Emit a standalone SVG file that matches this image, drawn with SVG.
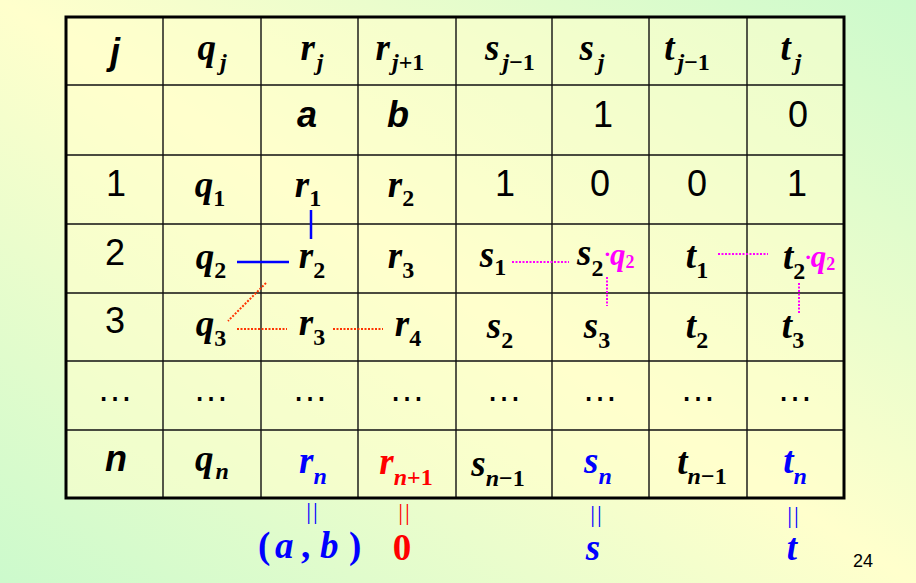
<svg xmlns="http://www.w3.org/2000/svg" width="916" height="583" viewBox="0 0 916 583">
<defs>
<linearGradient id="bg" x1="0" y1="1" x2="1" y2="0">
<stop offset="0" stop-color="#CCFACC"/>
<stop offset="0.5" stop-color="#FFFFCC"/>
<stop offset="1" stop-color="#CCFACC"/>
</linearGradient>
<style>
.m{font-family:"Liberation Serif","Times New Roman",serif;font-weight:bold;font-style:italic;font-size:37px;fill:#000}
.sub{font-size:24px}
.up{font-style:normal}
.a{font-family:"Liberation Sans",Arial,sans-serif;font-size:36px;fill:#000}
.ab{font-weight:bold;font-style:italic}
.blue{fill:#0000FF}
.red{fill:#FF0000}
.mag{fill:#FF00FF}
.mq{font-size:31px}
.ms{font-size:18px}
.grid{stroke:#111;stroke-width:1.4;fill:none}
.bl{stroke:#0000FF;stroke-width:2.5;fill:none}
.or{stroke:#FF3300;stroke-width:2;stroke-dasharray:2 1.5;fill:none}
.mg{stroke:#FF00FF;stroke-width:2;stroke-dasharray:2 1.5;fill:none}
.eq{font-family:"Liberation Serif",serif;font-size:24px;letter-spacing:2px}
</style>
</defs>
<rect width="916" height="583" fill="url(#bg)"/>
<g id="table">
<rect x="66" y="17" width="778" height="481" fill="#FFFFCC" fill-opacity="0.55"/>
<path class="grid" d="M163 17V498M261 17V498M358 17V498M456 17V498M552 17V498M649 17V498M747 17V498M66 85H844M66 155H844M66 224H844M66 293H844M66 361H844M66 430H844"/>
<rect x="66" y="17" width="778" height="481" fill="none" stroke="#000" stroke-width="3"/>
</g>
<g id="connectors">
<path class="bl" d="M311 210V239M237 262H289"/>
<path class="or" d="M266 283L228 321M237 329H287M333 329H383"/>
<path class="mg" d="M512 262H569M607 277V306M718 254H768M799 283V314"/>
</g>
<g id="header">
<text class="a ab" x="115" y="64" text-anchor="middle">j</text>
<text class="m" x="212" y="60" text-anchor="middle">q<tspan class="sub" dx="4" dy="10">j</tspan></text>
<text class="m" x="312" y="60" text-anchor="middle">r<tspan class="sub" dx="2" dy="10">j</tspan></text>
<text class="m" x="400" y="60" text-anchor="middle">r<tspan class="sub" dx="2" dy="10">j<tspan class="up">+1</tspan></tspan></text>
<text class="m" x="510" y="60" text-anchor="middle">s<tspan class="sub" dx="3" dy="10">j<tspan class="up">−1</tspan></tspan></text>
<text class="m" x="592" y="60" text-anchor="middle">s<tspan class="sub" dx="4" dy="10">j</tspan></text>
<text class="m" x="687" y="60" text-anchor="middle">t<tspan class="sub" dx="3" dy="10">j<tspan class="up">−1</tspan></tspan></text>
<text class="m" x="791" y="60" text-anchor="middle">t<tspan class="sub" dx="4" dy="10">j</tspan></text>
</g>
<g id="row-init">
<text class="a ab" x="307" y="127" text-anchor="middle">a</text>
<text class="a ab" x="398" y="127" text-anchor="middle">b</text>
<text class="a" x="603" y="127" text-anchor="middle">1</text>
<text class="a" x="798" y="127" text-anchor="middle">0</text>
</g>
<g id="row-1">
<text class="a" x="116" y="196" text-anchor="middle">1</text>
<text class="m" x="210" y="197" text-anchor="middle">q<tspan class="sub up" dy="9">1</tspan></text>
<text class="m" x="308" y="197" text-anchor="middle">r<tspan class="sub up" dy="9">1</tspan></text>
<text class="m" x="401" y="197" text-anchor="middle">r<tspan class="sub up" dy="9">2</tspan></text>
<text class="a" x="505" y="196" text-anchor="middle">1</text>
<text class="a" x="600" y="196" text-anchor="middle">0</text>
<text class="a" x="697" y="196" text-anchor="middle">0</text>
<text class="a" x="797" y="196" text-anchor="middle">1</text>
</g>
<g id="row-2">
<text class="a" x="115" y="265" text-anchor="middle">2</text>
<text class="m" x="211" y="269" text-anchor="middle">q<tspan class="sub up" dy="9">2</tspan></text>
<text class="m" x="312" y="268" text-anchor="middle">r<tspan class="sub up" dy="10">2</tspan></text>
<text class="m" x="401" y="268" text-anchor="middle">r<tspan class="sub up" dy="10">3</tspan></text>
<text class="m" x="493" y="267" text-anchor="middle">s<tspan class="sub up" dy="8">1</tspan></text>
<text class="m" x="577" y="265">s<tspan class="sub up" dy="11">2</tspan><tspan class="mag" dx="1" dy="-15" font-size="22px">·</tspan><tspan class="mag mq" dy="4">q</tspan><tspan class="mag up ms" dy="3">2</tspan></text>
<text class="m" x="697" y="268" text-anchor="middle">t<tspan class="sub up" dy="10">1</tspan></text>
<text class="m" x="783" y="269">t<tspan class="sub up" dy="10">2</tspan><tspan class="mag" dx="0" dy="-15" font-size="22px">·</tspan><tspan class="mag mq" dy="3">q</tspan><tspan class="mag up ms" dy="3">2</tspan></text>
</g>
<g id="row-3">
<text class="a" x="115" y="333" text-anchor="middle">3</text>
<text class="m" x="211" y="336" text-anchor="middle">q<tspan class="sub up" dy="10">3</tspan></text>
<text class="m" x="312" y="335" text-anchor="middle">r<tspan class="sub up" dy="10">3</tspan></text>
<text class="m" x="408" y="336" text-anchor="middle">r<tspan class="sub up" dy="10">4</tspan></text>
<text class="m" x="500" y="338" text-anchor="middle">s<tspan class="sub up" dy="10">2</tspan></text>
<text class="m" x="597" y="338" text-anchor="middle">s<tspan class="sub up" dy="10">3</tspan></text>
<text class="m" x="697" y="338" text-anchor="middle">t<tspan class="sub up" dy="10">2</tspan></text>
<text class="m" x="793" y="338" text-anchor="middle">t<tspan class="sub up" dy="10">3</tspan></text>
</g>
<g id="row-dots">
<text class="a" x="115" y="401" text-anchor="middle">…</text>
<text class="a" x="211" y="401" text-anchor="middle">…</text>
<text class="a" x="310" y="401" text-anchor="middle">…</text>
<text class="a" x="407" y="401" text-anchor="middle">…</text>
<text class="a" x="504" y="401" text-anchor="middle">…</text>
<text class="a" x="600" y="401" text-anchor="middle">…</text>
<text class="a" x="698" y="401" text-anchor="middle">…</text>
<text class="a" x="795" y="401" text-anchor="middle">…</text>
</g>
<g id="row-n">
<text class="a ab" x="116" y="471" text-anchor="middle">n</text>
<text class="m" x="212" y="471" text-anchor="middle">q<tspan class="sub" dx="2" dy="8">n</tspan></text>
<text class="m blue" x="313" y="473" text-anchor="middle">r<tspan class="sub" dy="11">n</tspan></text>
<text class="m red" x="406" y="474" text-anchor="middle">r<tspan class="sub" dy="11">n<tspan class="up">+1</tspan></tspan></text>
<text class="m" x="498" y="476" text-anchor="middle">s<tspan class="sub" dy="10">n<tspan class="up">−1</tspan></tspan></text>
<text class="m blue" x="598" y="473" text-anchor="middle">s<tspan class="sub" dy="11">n</tspan></text>
<text class="m" x="702" y="474" text-anchor="middle">t<tspan class="sub" dy="10">n<tspan class="up">−1</tspan></tspan></text>
<text class="m blue" x="795" y="473" text-anchor="middle">t<tspan class="sub" dy="11">n</tspan></text>
</g>
<g id="results">
<text class="eq blue" x="313" y="519" text-anchor="middle">||</text>
<text class="eq red" x="405" y="520" text-anchor="middle">||</text>
<text class="eq blue" x="597" y="522" text-anchor="middle">||</text>
<text class="eq blue" x="794" y="523" text-anchor="middle">||</text>
<text class="m blue" font-size="38px" y="558"><tspan class="up" x="258">(</tspan><tspan x="275">a</tspan><tspan class="up" x="301">,</tspan><tspan x="320">b</tspan><tspan class="up" x="349">)</tspan></text>
<text class="m red up" font-size="40px" x="402" y="560" text-anchor="middle">0</text>
<text class="m blue" x="593" y="560" text-anchor="middle">s</text>
<text class="m blue" x="792" y="560" text-anchor="middle">t</text>
</g>
<text x="853" y="567" font-family="Liberation Sans,Arial,sans-serif" font-size="18" fill="#000">24</text>
</svg>
